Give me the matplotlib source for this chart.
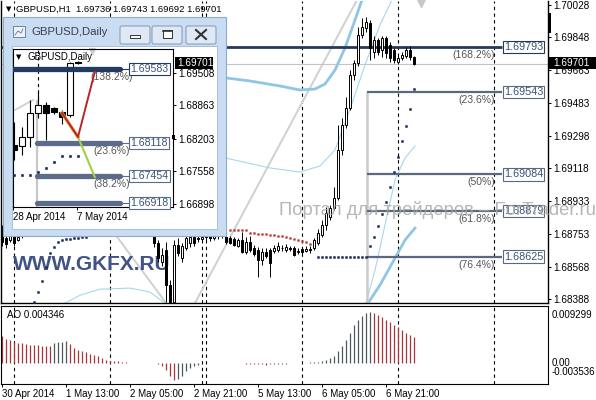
import matplotlib
matplotlib.use("Agg")
import matplotlib.pyplot as plt
import numpy as np
from matplotlib.patches import Rectangle, FancyBboxPatch

plt.rcParams['font.family'] = ['Liberation Sans', 'DejaVu Sans']

W, H = 596, 400

# ---------------- GBPUSD H1 (bar 0 = 30 Apr 2014 21:00) ----------------
opens = [1.68773, 1.68728, 1.68717, 1.68739, 1.68717, 1.68739, 1.68761, 1.68795, 1.68825, 1.68815,
         1.68840, 1.68865, 1.68850, 1.68870, 1.68905, 1.68930, 1.68915, 1.68895, 1.68870, 1.68880,
         1.68860, 1.68875, 1.68855, 1.68865, 1.68850, 1.68840, 1.68855, 1.68845, 1.68830, 1.68845,
         1.68835, 1.68850, 1.68840, 1.68830, 1.68845, 1.68835, 1.68815, 1.68800, 1.68773, 1.68700,
         1.68594, 1.68661, 1.68466, 1.68371, 1.68689, 1.68616, 1.68672, 1.68700, 1.68734, 1.68728,
         1.68722, 1.68734, 1.68739, 1.68728, 1.68745, 1.68739, 1.68734, 1.68728, 1.68722, 1.68683,
         1.68717, 1.68650, 1.68706, 1.68672, 1.68661, 1.68605, 1.68650, 1.68661, 1.68655, 1.68661,
         1.68672, 1.68661, 1.68672, 1.68672, 1.68650, 1.68667, 1.68655, 1.68667, 1.68672, 1.68700,
         1.68745, 1.68801, 1.68845, 1.68895, 1.68951, 1.69219, 1.69359, 1.69453, 1.69637, 1.69704,
         1.69861, 1.69900, 1.69928, 1.69766, 1.69833, 1.69777, 1.69844, 1.69805, 1.69777, 1.69710,
         1.69732, 1.69744, 1.69777, 1.69736]
highs = [1.68801, 1.68761, 1.68773, 1.68773, 1.68801, 1.68828, 1.68810, 1.68840, 1.68860, 1.68850,
         1.68880, 1.68895, 1.68880, 1.68920, 1.68950, 1.68965, 1.68940, 1.68920, 1.68900, 1.68905,
         1.68890, 1.68900, 1.68880, 1.68890, 1.68875, 1.68870, 1.68880, 1.68870, 1.68860, 1.68870,
         1.68865, 1.68880, 1.68870, 1.68860, 1.68875, 1.68860, 1.68845, 1.68830, 1.68801, 1.68717,
         1.68672, 1.68706, 1.68494, 1.68717, 1.68728, 1.68700, 1.68745, 1.68756, 1.68756, 1.68750,
         1.68756, 1.68761, 1.68761, 1.68773, 1.68767, 1.68773, 1.68756, 1.68739, 1.68734, 1.68728,
         1.68761, 1.68734, 1.68739, 1.68689, 1.68678, 1.68672, 1.68672, 1.68672, 1.68689, 1.68706,
         1.68689, 1.68695, 1.68683, 1.68683, 1.68672, 1.68678, 1.68683, 1.68683, 1.68728, 1.68778,
         1.68828, 1.68901, 1.68912, 1.69013, 1.69359, 1.69398, 1.69515, 1.69665, 1.69721, 1.69905,
         1.69956, 1.69961, 1.69944, 1.69855, 1.69844, 1.69855, 1.69855, 1.69822, 1.69788, 1.69749,
         1.69766, 1.69794, 1.69799, 1.69743]
lows = [1.68683, 1.68672, 1.68706, 1.68683, 1.68711, 1.68728, 1.68745, 1.68780, 1.68800, 1.68790,
        1.68820, 1.68840, 1.68825, 1.68860, 1.68890, 1.68900, 1.68880, 1.68860, 1.68845, 1.68850,
        1.68835, 1.68845, 1.68830, 1.68840, 1.68820, 1.68815, 1.68830, 1.68815, 1.68805, 1.68820,
        1.68810, 1.68825, 1.68815, 1.68805, 1.68820, 1.68800, 1.68780, 1.68760, 1.68678, 1.68594,
        1.68572, 1.68372, 1.68372, 1.68371, 1.68628, 1.68594, 1.68661, 1.68678, 1.68683, 1.68706,
        1.68711, 1.68717, 1.68711, 1.68717, 1.68722, 1.68728, 1.68695, 1.68695, 1.68683, 1.68678,
        1.68644, 1.68639, 1.68650, 1.68628, 1.68510, 1.68577, 1.68616, 1.68510, 1.68644, 1.68650,
        1.68655, 1.68650, 1.68655, 1.68628, 1.68639, 1.68639, 1.68650, 1.68644, 1.68661, 1.68689,
        1.68734, 1.68773, 1.68828, 1.68884, 1.68940, 1.69191, 1.69342, 1.69442, 1.69610, 1.69688,
        1.69844, 1.69877, 1.69721, 1.69732, 1.69749, 1.69738, 1.69732, 1.69710, 1.69704, 1.69699,
        1.69721, 1.69732, 1.69721, 1.69692]
closes = [1.68706, 1.68695, 1.68739, 1.68700, 1.68734, 1.68761, 1.68795, 1.68825, 1.68815, 1.68840,
          1.68865, 1.68850, 1.68870, 1.68905, 1.68930, 1.68915, 1.68895, 1.68870, 1.68880, 1.68860,
          1.68875, 1.68855, 1.68865, 1.68850, 1.68840, 1.68855, 1.68845, 1.68830, 1.68845, 1.68835,
          1.68850, 1.68840, 1.68830, 1.68845, 1.68835, 1.68815, 1.68800, 1.68785, 1.68700, 1.68616,
          1.68633, 1.68466, 1.68371, 1.68689, 1.68644, 1.68683, 1.68728, 1.68734, 1.68700, 1.68722,
          1.68734, 1.68739, 1.68728, 1.68745, 1.68739, 1.68750, 1.68706, 1.68700, 1.68689, 1.68717,
          1.68650, 1.68706, 1.68661, 1.68639, 1.68605, 1.68650, 1.68628, 1.68588, 1.68672, 1.68683,
          1.68670, 1.68678, 1.68667, 1.68633, 1.68655, 1.68650, 1.68667, 1.68661, 1.68717, 1.68756,
          1.68801, 1.68867, 1.68895, 1.68951, 1.69219, 1.69359, 1.69453, 1.69637, 1.69704, 1.69861,
          1.69905, 1.69933, 1.69788, 1.69833, 1.69766, 1.69844, 1.69760, 1.69732, 1.69721, 1.69732,
          1.69749, 1.69777, 1.69738, 1.69701]

# Awesome Oscillator, in units of 1e-3
ao_values = [4.62, 4.05, 3.83, 3.60, 3.38, 3.32, 3.27, 3.10, 3.04, 2.98,
             2.93, 2.90, 2.82, 3.38, 3.60, 3.62, 3.66, 3.27, 2.53, 2.14,
             1.97, 1.80, 1.58, 1.41, 1.13, 0.84, 0.56, 0.39, 0.34, 0.28,
             0.17, 0.11, 0.07, 0.05, 0.06, 0.03, 0.04, 0.0, -0.04, -0.11,
             -0.45, -1.24, -2.14, -2.82, -2.70, -2.14, -1.41, -0.84, -0.56, -0.28,
             -0.11, -0.05, -0.03, -0.02, -0.01, 0.0, 0.01, 0.02, -0.05, -0.06,
             -0.08, -0.10, -0.12, -0.15, -0.20, -0.24, -0.26, -0.22, -0.18, -0.15,
             -0.12, -0.10, -0.07, -0.05, 0.04, 0.06, 0.08, 0.10, 0.12, 0.18,
             0.28, 0.56, 0.84, 1.24, 1.97, 2.93, 3.83, 5.07, 6.47, 7.32,
             7.99, 8.45, 8.61, 8.45, 8.16, 7.77, 7.21, 6.87, 6.47, 6.08,
             5.52, 5.07, 4.79, 4.35]

price_ticks = [1.70028, 1.69848, 1.69663, 1.69483, 1.69298, 1.69118, 1.68933, 1.68753, 1.68568, 1.68388]
time_ticks = [0, 16, 32, 48, 64, 80, 96]
time_labels = ['30 Apr 2014', '1 May 13:00', '2 May 05:00', '2 May 21:00',
               '5 May 13:00', '6 May 05:00', '6 May 21:00']
day_seps = [3, 27, 50, 51, 75, 99, 123]

# parabolic SAR
sar_low_bars = list(range(8, 22)) + list(range(79, 104))
sar_low = [1.68371, 1.68427, 1.68488, 1.68566, 1.68644, 1.68678, 1.68706, 1.68717, 1.68722, 1.68725,
           1.68728, 1.68731, 1.68734, 1.68736] + [1.68625] * 13 + \
          [1.68684, 1.68736, 1.68795, 1.68862, 1.68931, 1.69015, 1.69095, 1.69178, 1.69269, 1.69353,
           1.69446, 1.69558]
sar_high_bars = list(range(57, 79))
sar_high = [1.68775] * 5 + [1.68756, 1.68756, 1.68753, 1.68750, 1.68750, 1.68747, 1.68745, 1.68742,
                            1.68739, 1.68734, 1.68728, 1.68722, 1.68717, 1.68711, 1.68706, 1.68697, 1.68689]

# envelope / band lines
band_thick_up_x = [50, 56, 62, 69.5, 74.5, 78.25, 80.75, 83.25, 85.75, 88.25, 90]
band_thick_up_y = [1.69630, 1.69621, 1.69604, 1.69576, 1.69554, 1.69559, 1.69587, 1.69665, 1.69788, 1.69944, 1.70056]
band_thick_lo_x = [91.5, 94.5, 98.25, 100.75, 103.25]
band_thick_lo_y = [1.68365, 1.68466, 1.68616, 1.68717, 1.68784]
band_thin_up_x = [50, 56, 67, 74.5, 79.5, 83.25, 86.5, 90.75, 94.5, 97.5]
band_thin_up_y = [1.69185, 1.69174, 1.69119, 1.69096, 1.69130, 1.69219, 1.69414, 1.69693, 1.69917, 1.70056]
band_thin_lo_x = [91, 93.25, 95.75, 98.25, 100.75, 103.25]
band_thin_lo_y = [1.68365, 1.68549, 1.68801, 1.69052, 1.69174, 1.69241]
band_left_x = [15.75, 19.5, 24.5, 32, 37, 40.75]
band_left_y = [1.68365, 1.68409, 1.68443, 1.68449, 1.68427, 1.68365]

trend_lines = [((48.25, 1.68366), (88.75, 1.70056)),
               ((24, 1.68879), (41, 1.68366))]

fib_levels = [1.69793, 1.69543, 1.69084, 1.68879, 1.68625]
fib_pcts = ['(168.2%)', '(23.6%)', '(50%)', '(61.8%)', '(76.4%)']
fib_start = 91.25
fib_end = 125
current_price = 1.69701

# ---------------- GBPUSD Daily (inset) ----------------
d_open = [1.68074, 1.68054, 1.68233, 1.68711, 1.68871, 1.68811, 1.68731, 1.68671, 1.69736]
d_high = [1.68532, 1.68432, 1.68970, 1.69169, 1.68930, 1.68831, 1.68771, 1.69727, 1.69743]
d_low = [1.67775, 1.67875, 1.68034, 1.68612, 1.68173, 1.68691, 1.68492, 1.68632, 1.69692]
d_close = [1.67974, 1.68233, 1.68711, 1.68871, 1.68711, 1.68731, 1.68632, 1.69707, 1.69701]
d_sar = [1.67476, 1.67476, 1.67476, 1.67536, 1.67616, 1.67735, 1.67855, 1.67855, 1.67855]
d_ticks = [1.69508, 1.68863, 1.68203, 1.67558, 1.66898]
d_fib_levels = [1.69583, 1.68118, 1.67454, 1.66918]
d_fib_pcts = ['(138.2%)', '(23.6%)', '(38.2%)', '']
d_zz_x = [6, 8, 10.1]
d_zz_y = [1.68711, 1.68233, 1.69530]
d_green_x = [7.9, 10.1]
d_green_y = [1.68273, 1.67436]


def fbox(x0, y0, x1, y1):
    return [x0 / W, 1 - y1 / H, (x1 - x0) / W, (y1 - y0) / H]


def pix_axes(z):
    a = fig.add_axes([0, 0, 1, 1])
    a.set_xlim(0, W)
    a.set_ylim(H, 0)
    a.axis('off')
    a.set_facecolor('none')
    a.set_zorder(z)
    return a


def draw_candles(axes, o, h, l, c, width, lw):
    for i, (oo, hh, ll, cc) in enumerate(zip(o, h, l, c)):
        axes.vlines(i, ll, hh, color='black', lw=lw, zorder=4)
        body = abs(cc - oo)
        axes.add_patch(Rectangle((i - width / 2, min(oo, cc)), width, body,
                                 fc='white' if cc > oo else 'black', ec='black', lw=lw, zorder=5))


fig = plt.figure(figsize=(W / 100, H / 100), dpi=100)
fig.patch.set_facecolor('white')

# ---------------- main chart ----------------
ax = fig.add_axes(fbox(1, 1, 548, 303))
ax.set_zorder(1)
ax.set_xlim(-0.25, 136.5)
ax.set_ylim(1.68366, 1.70050)
ax.spines['top'].set_visible(False)
for s in ['left', 'right', 'bottom']:
    ax.spines[s].set_linewidth(1.0)
ax.set_xticks([])
ax.yaxis.tick_right()
ax.set_yticks(price_ticks)
ax.set_yticklabels(['%.5f' % v for v in price_ticks])
ax.tick_params(axis='y', direction='out', length=2.2, width=0.7, pad=1.5, labelsize=7.2)

for b in day_seps:
    ax.axvline(b, color='black', lw=0.8, ls=(0, (3, 3)), zorder=1)

ax.axhline(current_price, color='#c4c4c4', lw=0.8, zorder=1.5)
for (x0, y0), (x1, y1) in trend_lines:
    ax.plot([x0, x1], [y0, y1], color='#d0d0d0', lw=1.4, zorder=1.2)

ax.plot(band_thick_up_x, band_thick_up_y, color='#8fc6e6', lw=2.0, zorder=1.6)
ax.plot(band_thick_lo_x, band_thick_lo_y, color='#8fc6e6', lw=2.0, zorder=1.6)
ax.plot(band_thin_up_x, band_thin_up_y, color='#a8d6ee', lw=0.8, zorder=1.6)
ax.plot(band_thin_lo_x, band_thin_lo_y, color='#a8d6ee', lw=0.8, zorder=1.6)
ax.plot(band_left_x, band_left_y, color='#a8d6ee', lw=0.8, zorder=1.6)

ax.text(13 / W, 1 - 265 / H, 'WWW.GKFX.RU', transform=fig.transFigure, fontsize=15,
        fontweight='bold', color='#415386', va='center', ha='left', zorder=3)

# fibonacci on H1
ax.vlines(fib_start, 1.68366, fib_levels[1], color='#cacaca', lw=1.8, zorder=2)
for k, (lev, pct) in enumerate(zip(fib_levels, fib_pcts)):
    col = '#243a57' if k == 0 else '#5a697d'
    x0 = -0.25 if k == 0 else fib_start
    ax.plot([x0, fib_end], [lev, lev], color=col, lw=2.0 if k == 0 else 1.6, zorder=3.5,
            solid_capstyle='butt')
    ax.text(fib_end + 0.45, lev, '%.5f' % lev, fontsize=7.8, color='#3b5275', ha='left', va='center',
            zorder=8, bbox=dict(boxstyle='square,pad=0.12', fc='white', ec=col, lw=0.8))
    ax.annotate(pct, (123.3, lev), xytext=(0, -5.8), textcoords='offset points',
                ha='right', va='center', fontsize=7.5, color='#555555', zorder=8)

ax.plot(sar_low_bars, sar_low, ls='none', marker='s', ms=1.3, mew=0.45, color='#1f2d5c', zorder=3.8)
ax.plot(sar_high_bars, sar_high, ls='none', marker='s', ms=1.2, mew=0.4, color='#c8343a', zorder=3.8)

draw_candles(ax, opens, highs, lows, closes, 0.55, 0.7)

# ---------------- AO panel ----------------
ao = fig.add_axes(fbox(1, 306, 548, 384))
ao.set_zorder(1)
ao.set_xlim(-0.25, 136.5)
ao.set_ylim(-0.00355, 0.00963)
ao.set_yticks([])
vals = np.array(ao_values) * 1e-3
cols = ['#a8343c'] + ['#4c5a60' if vals[i] > vals[i - 1] else '#a8343c' for i in range(1, len(vals))]
ao.vlines(np.arange(len(vals)), 0, vals, colors=cols, lw=0.9)
for b in day_seps:
    ao.axvline(b, color='black', lw=0.8, ls=(0, (3, 3)), zorder=1)
ao.set_xticks(time_ticks)
ao.set_xticklabels(time_labels, ha='left')
ao.tick_params(axis='x', direction='out', length=2, width=0.7, pad=1.5, labelsize=7)

# ---------------- pixel overlay under the window ----------------
ovm = pix_axes(2)
ovm.text(6, 9, '\u25bc', fontsize=5, va='center', ha='left', family='DejaVu Sans')
ovm.text(16, 9, 'GBPUSD,H1  1.69736 1.69743 1.69692 1.69701', fontsize=6.8, va='center', ha='left')
ovm.add_patch(Rectangle((549, 57), 47, 12, fc='black', ec='none'))
ovm.text(553, 63, '%.5f' % current_price, color='white', fontsize=7.2, va='center', ha='left')
ovm.add_patch(Rectangle((548, 13), 3, 20, fc='black', ec='none'))
ovm.plot([421], [3], marker='v', ms=6, color='#c8c8c8', ls='none')
ovm.text(7, 315, 'AO 0.004346', fontsize=7, va='center', ha='left')
for txt, y in [('0.009299', 315), ('0.00', 363), ('-0.003536', 372)]:
    ovm.text(552, y, txt, fontsize=7, va='center', ha='left')

# ---------------- inset window ----------------
ovw = pix_axes(5)
ovw.add_patch(Rectangle((3, 17), 223, 219, fc='#c9dcf2', ec='#8eaacb', lw=0.8))
ovw.add_patch(Rectangle((12, 46), 205, 183, fc='white', ec='#a0b8d4', lw=0.6))
ovw.add_patch(Rectangle((13, 26), 12, 11, fc='#eef3fa', ec='#5d7594', lw=0.6))
ovw.plot([15, 18, 21, 23], [35, 31, 33, 29], color='#5d7594', lw=0.6)
ovw.text(31, 32, 'GBPUSD,Daily', fontsize=8.2, color='#33404f', va='center', ha='left')
for bx in [120, 152, 186]:
    ovw.add_patch(FancyBboxPatch((bx, 26), 30, 18, boxstyle='round,pad=0,rounding_size=2',
                                 fc='#dfe9f6', ec='#8096b4', lw=0.7))
ovw.add_patch(Rectangle((130, 35), 10, 3, fc='white', ec='#333333', lw=0.7))
ovw.add_patch(Rectangle((163, 30), 9, 8, fc='white', ec='#333333', lw=0.7))
ovw.plot([163, 172], [31, 31], color='#333333', lw=1.2)
ovw.plot([196, 206], [30, 39], color='#333333', lw=1.5)
ovw.plot([196, 206], [39, 30], color='#333333', lw=1.5)
ovw.text(16, 57, '\u25bc', fontsize=5, va='center', ha='left', family='DejaVu Sans')
ovw.text(28, 57, 'GBPUSD,Daily', fontsize=7, va='center', ha='left')
ovw.plot([92], [51], marker='v', ms=5, color='#cccccc', ls='none')

inn = fig.add_axes(fbox(13, 49, 173, 207))
inn.set_zorder(6)
inn.set_facecolor('none')
inn.set_xlim(-0.125, 19.875)
inn.set_ylim(1.66839, 1.69986)
for s in inn.spines.values():
    s.set_linewidth(0.8)
inn.yaxis.tick_right()
inn.set_yticks(d_ticks)
inn.set_yticklabels(['%.5f' % v for v in d_ticks])
inn.tick_params(axis='y', direction='out', length=2, width=0.7, pad=1.5, labelsize=7.2)
inn.set_xticks([-0.1, 7.9])
inn.set_xticklabels(['28 Apr 2014', '7 May 2014'], ha='left')
inn.tick_params(axis='x', direction='out', length=2, width=0.7, pad=1.5, labelsize=7)

inn.vlines(3, 1.68970, 1.69986, color='black', lw=0.8, linestyles=(0, (3, 3)), zorder=1)
inn.vlines(2.875, 1.66839, 1.68970, color='#c8c8c8', lw=1.6, zorder=1)
inn.plot([0.125, 2.375], [1.68771, 1.68970], color='#d0d0d0', lw=1.3, zorder=1)
inn.plot(range(len(d_sar)), d_sar, ls='none', marker='s', ms=1.4, mew=0.5, color='#1f2d5c', zorder=3)
draw_candles(inn, d_open, d_high, d_low, d_close, 0.7, 0.8)

for k, (lev, pct) in enumerate(zip(d_fib_levels, d_fib_pcts)):
    col = '#223b5e' if k == 0 else '#5b6b8c'
    x0 = -0.125 if k == 0 else 2.875
    inn.plot([x0, 13.25], [lev, lev], color=col, lw=3.8, solid_capstyle='round', zorder=6)
    inn.plot([13.25, 14.4], [lev, lev], color=col, lw=0.8, zorder=6)
    inn.text(14.55, lev, '%.5f' % lev, fontsize=7.6, color='#3b5275', ha='left', va='center',
             zorder=8, bbox=dict(boxstyle='square,pad=0.12', fc='white', ec=col, lw=0.8))
    if pct:
        inn.annotate(pct, (14.9 if k == 0 else 14.5, lev), xytext=(0, -5.8), textcoords='offset points',
                     ha='right', va='center', fontsize=7.5, color='#555555', zorder=7)

inn.plot(d_zz_x[:2], d_zz_y[:2], color='#e5a83a', lw=2.4, zorder=7)
inn.plot(d_green_x, d_green_y, color='#a4d044', lw=1.5, zorder=7)
inn.plot(d_zz_x, d_zz_y, color='#b8242a', lw=1.4, zorder=7.5)

ovt = pix_axes(7)
ovt.add_patch(Rectangle((175, 57), 38, 12, fc='black', ec='none'))
ovt.text(177, 63, '1.69701', color='white', fontsize=7.2, va='center', ha='left')
ovt.add_patch(Rectangle((172, 135), 3, 4, fc='black', ec='none'))

fig.text(279 / W, 1 - 210 / H, 'Портал для трейдеров \u2013 ForTrader.ru', fontsize=13.2,
         color='#a4a4a4', alpha=0.8, va='center', ha='left', zorder=20)

fig.savefig('out.png', dpi=100)
